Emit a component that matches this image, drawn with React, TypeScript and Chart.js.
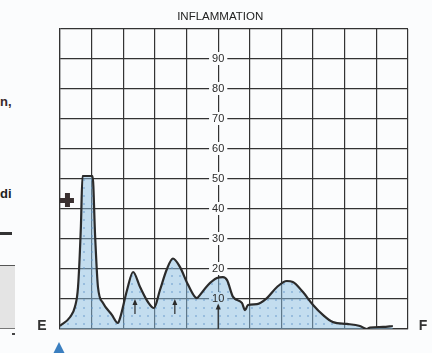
import React, { useEffect, useRef } from "react";
import { Chart, registerables } from "chart.js";

Chart.register(...registerables);

// Curve (x in grid columns 0..11, y in inflammation units 0..100)
const curveX = [0, 0.32, 0.47, 0.57, 0.66, 0.71, 0.8, 0.92, 1.03, 1.11, 1.2, 1.36, 1.64, 1.83, 1.9, 2.12, 2.31, 2.53, 2.78, 2.97, 3.16, 3.38, 3.57, 3.79, 4.05, 4.33, 4.42, 4.68, 4.96, 5.15, 5.28, 5.47, 5.75, 5.85, 5.94, 6.23, 6.54, 6.86, 7.17, 7.36, 7.68, 8.0, 8.31, 8.63, 9.07, 9.48, 9.7, 9.8, 10.21, 10.52];
const curveY = [1, 4, 7.3, 14, 34, 51, 51, 51, 51, 31, 14, 8.7, 4.7, 2, 3.7, 13, 19, 14, 9, 7, 13, 20, 23.5, 20.7, 14.7, 10.3, 11.3, 14.7, 17, 17.3, 16.3, 10.7, 8.7, 6.3, 8, 8.3, 10.3, 14, 16, 15.7, 12.3, 8, 4.7, 2.3, 1.7, 1, 0, 0.5, 0.7, 1];

const yTickValues = [10, 20, 30, 40, 50, 60, 70, 80, 90];
const yTickLabels = ["10", "20", "30", "40", "50", "60", "70", "80", "90"];
const centerAxisX = 5;

const arrowX = [2.37, 3.63, 5];
const arrowFrom = [5, 5, 0];
const arrowTo = [10, 10, 8.5];

const titleText = "INFLAMMATION";
const leftEndLabel = "E";
const rightEndLabel = "F";
const plusMark = { x: 0.22, y: 43 };

function makePattern(): CanvasPattern | string {
  const c = document.createElement("canvas");
  c.width = 8;
  c.height = 8;
  const g = c.getContext("2d");
  if (!g) return "rgba(150,195,225,0.5)";
  g.fillStyle = "rgba(140,190,225,0.5)";
  g.fillRect(0, 0, 8, 8);
  g.fillStyle = "rgba(100,150,200,0.45)";
  g.fillRect(3, 3, 2, 2);
  const p = g.createPattern(c, "repeat");
  return p || "rgba(150,195,225,0.5)";
}

const INK = "#2b2b2b";

const decorPlugin = {
  id: "decor",
  beforeDatasetsDraw(chart: any) {
    const { ctx, scales } = chart;
    const xs = scales.x;
    const ys = scales.y;
    const cx = xs.getPixelForValue(centerAxisX);
    ctx.save();
    ctx.font = "11px 'Liberation Sans', Arial, sans-serif";
    ctx.fillStyle = "#fbfcfd";
    yTickValues.forEach((v, i) => {
      const py = ys.getPixelForValue(v);
      const w = ctx.measureText(yTickLabels[i]).width;
      ctx.fillRect(cx - w / 2 - 3, py - 7, w + 6, 13);
    });
    ctx.restore();
  },
  afterDatasetsDraw(chart: any) {
    const { ctx, scales, chartArea } = chart;
    const xs = scales.x;
    const ys = scales.y;
    const cx = xs.getPixelForValue(centerAxisX);
    ctx.save();
    // center tick labels
    ctx.font = "11px 'Liberation Sans', Arial, sans-serif";
    ctx.fillStyle = INK;
    ctx.textAlign = "center";
    ctx.textBaseline = "middle";
    yTickValues.forEach((v, i) => {
      ctx.fillText(yTickLabels[i], cx, ys.getPixelForValue(v));
    });
    // title
    ctx.font = "11.5px 'Liberation Sans', Arial, sans-serif";
    ctx.fillStyle = "#222";
    ctx.textBaseline = "alphabetic";
    ctx.fillText(titleText, cx + 2, 20);
    // E / F
    ctx.font = "bold 14px 'Liberation Sans', Arial, sans-serif";
    ctx.fillStyle = "#333";
    ctx.textAlign = "center";
    ctx.fillText(leftEndLabel, chartArea.left - 18, chartArea.bottom + 1);
    ctx.fillText(rightEndLabel, chartArea.right + 15, chartArea.bottom + 1);
    // arrows
    ctx.strokeStyle = INK;
    ctx.fillStyle = INK;
    ctx.lineWidth = 1.2;
    arrowX.forEach((ax, i) => {
      const px = xs.getPixelForValue(ax);
      const y0 = ys.getPixelForValue(arrowFrom[i]);
      const y1 = ys.getPixelForValue(arrowTo[i]);
      ctx.beginPath();
      ctx.moveTo(px, y0);
      ctx.lineTo(px, y1 + 3);
      ctx.stroke();
      ctx.beginPath();
      ctx.moveTo(px, y1);
      ctx.lineTo(px - 2.5, y1 + 6);
      ctx.lineTo(px + 2.5, y1 + 6);
      ctx.closePath();
      ctx.fill();
    });
    // plus mark
    const pxp = xs.getPixelForValue(plusMark.x);
    const pyp = ys.getPixelForValue(plusMark.y);
    ctx.fillStyle = "#3a3030";
    ctx.fillRect(pxp - 7, pyp - 2, 14, 5);
    ctx.fillRect(pxp - 2, pyp - 7, 5, 14);
    ctx.restore();
  },
};

export default function App() {
  const ref = useRef<HTMLCanvasElement | null>(null);
  useEffect(() => {
    if (!ref.current) return;
    const data = curveX.map((x, i) => ({ x, y: curveY[i] }));
    const chart = new Chart(ref.current, {
      type: "line",
      data: {
        datasets: [
          {
            data,
            borderColor: INK,
            borderWidth: 2.2,
            pointRadius: 0,
            cubicInterpolationMode: "monotone",
            fill: "origin",
            backgroundColor: makePattern() as any,
          },
        ],
      },
      options: {
        animation: false,
        responsive: false,
        layout: { padding: { left: 60, right: 24, top: 29, bottom: 24 } },
        plugins: { legend: { display: false }, tooltip: { enabled: false }, title: { display: false } },
        scales: {
          x: {
            type: "linear",
            min: 0,
            max: 11,
            ticks: { display: false, stepSize: 1 },
            grid: { color: "#333", lineWidth: 1.2, drawTicks: false },
            border: { color: "#333", width: 1.2 },
          },
          y: {
            min: 0,
            max: 100,
            ticks: { display: false, stepSize: 10 },
            grid: { color: "#333", lineWidth: 1.2, drawTicks: false },
            border: { color: "#333", width: 1.2 },
          },
        },
      },
      plugins: [decorPlugin],
    });
    return () => chart.destroy();
  }, []);

  return (
    <div style={{ position: "fixed", left: 0, top: 0, width: 432, height: 353, background: "#fbfcfd", overflow: "hidden" }}>
      <span style={{ position: "absolute", left: 0, top: 94, font: "bold 13px 'Liberation Sans', Arial, sans-serif", color: "#3a2a2a" }}>n,</span>
      <span style={{ position: "absolute", left: 0, top: 186, font: "bold 13px 'Liberation Sans', Arial, sans-serif", color: "#222" }}>di</span>
      <div style={{ position: "absolute", left: 0, top: 232, width: 12, height: 3, background: "#333" }} />
      <div style={{ position: "absolute", left: 0, top: 265, width: 15, height: 62, background: "#e4e4e4", borderTop: "1px solid #555", borderBottom: "1px solid #777" }} />
      <div style={{ position: "absolute", left: 12, top: 333, width: 3, height: 2, background: "#444" }} />
      <div style={{ position: "absolute", left: 53, top: 342, width: 0, height: 0, borderLeft: "6px solid transparent", borderRight: "6px solid transparent", borderBottom: "12px solid #3b7fc0" }} />
      <canvas ref={ref} width={432} height={353} style={{ position: "absolute", left: 0, top: 0 }} />
    </div>
  );
}
